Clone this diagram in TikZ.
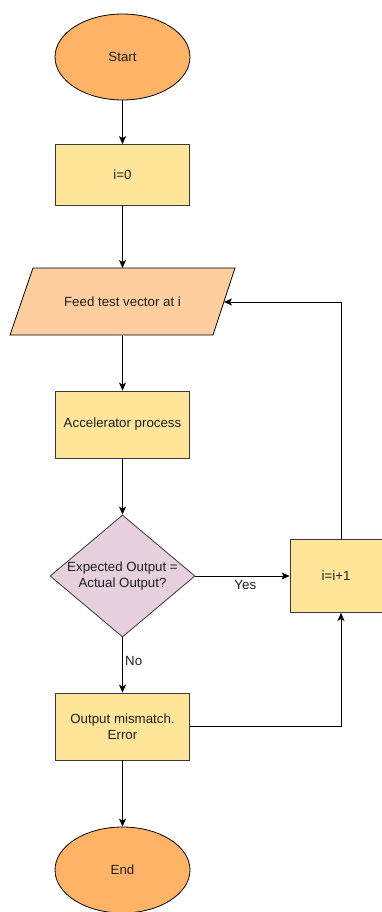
\documentclass[tikz,border=0pt]{standalone}
\usepackage{fontspec}
\setmainfont{Liberation Sans}
\usetikzlibrary{shapes.geometric,arrows.meta}
\definecolor{termfill}{HTML}{FFB366}
\definecolor{boxfill}{HTML}{FFE599}
\definecolor{iofill}{HTML}{FFCE9F}
\definecolor{decfill}{HTML}{E6D0DE}
\definecolor{edge}{HTML}{36393D}
\begin{document}
\begin{tikzpicture}[x=1pt,y=-1pt,
  every node/.style={font=\fontsize{13.3}{15.5}\selectfont, text=black!88, align=center},
  term/.style={ellipse, draw=black, line width=0.8pt, fill=termfill, minimum width=135pt, minimum height=86pt, inner sep=0pt},
  procbox/.style={rectangle, draw=edge, line width=0.8pt, fill=boxfill, minimum width=134pt, minimum height=61pt, inner sep=0pt},
  conn/.style={draw=black, line width=0.8pt, -{Stealth[length=8pt,width=7pt,inset=2pt]}},
  plain/.style={draw=black, line width=0.8pt}]
\useasboundingbox (0,0) rectangle (382,912);
\begin{scope}
\clip (0,0) rectangle (382,912);
\node[term] (start) at (122.5,57) {Start};
\node[procbox] (init) at (122.5,175) {i=0};
\path[draw=black, line width=0.8pt, fill=iofill] (33,268) -- (235,268) -- (213,335) -- (10,335) -- cycle;
\node (feed) at (122.5,301.5) {Feed test vector at i};
\coordinate (feedtop) at (122.5,268);
\coordinate (feedbot) at (122.5,335);
\coordinate (feedright) at (224,302);
\node[procbox, minimum height=67pt] (acc) at (122.5,424.5) {Accelerator process};
\node[diamond, draw=edge, line width=0.8pt, fill=decfill, minimum width=145pt, minimum height=122pt, inner sep=0pt, aspect=1.19] (dec) at (122.5,576) {};
\node at (122.5,576) {Expected Output =\\Actual Output?};
\node[procbox, minimum width=102pt, minimum height=73pt] (inc) at (341,576) {};
\node at (336,576) {i=i+1};
\node[procbox, minimum height=67pt] (err) at (122.5,726.5) {Output mismatch.\\Error};
\node[term] (end) at (122.5,870) {End};

\draw[conn] (start) -- (init);
\draw[conn] (init) -- (feedtop);
\draw[conn] (feedbot) -- (acc);
\draw[conn] (acc) -- (dec);
\draw[conn] (dec.east) -- node[below, pos=0.53, yshift=-0.5pt] {Yes} (inc.west);
\draw[conn] (dec.south) -- node[right, pos=0.43, xshift=-1pt] {No} (err.north);
\draw[conn] (err) -- (end);
\draw[conn] (inc.north) |- (feedright);
\draw[conn] (err.east) -| (inc.south);
\end{scope}
\end{tikzpicture}
\end{document}
